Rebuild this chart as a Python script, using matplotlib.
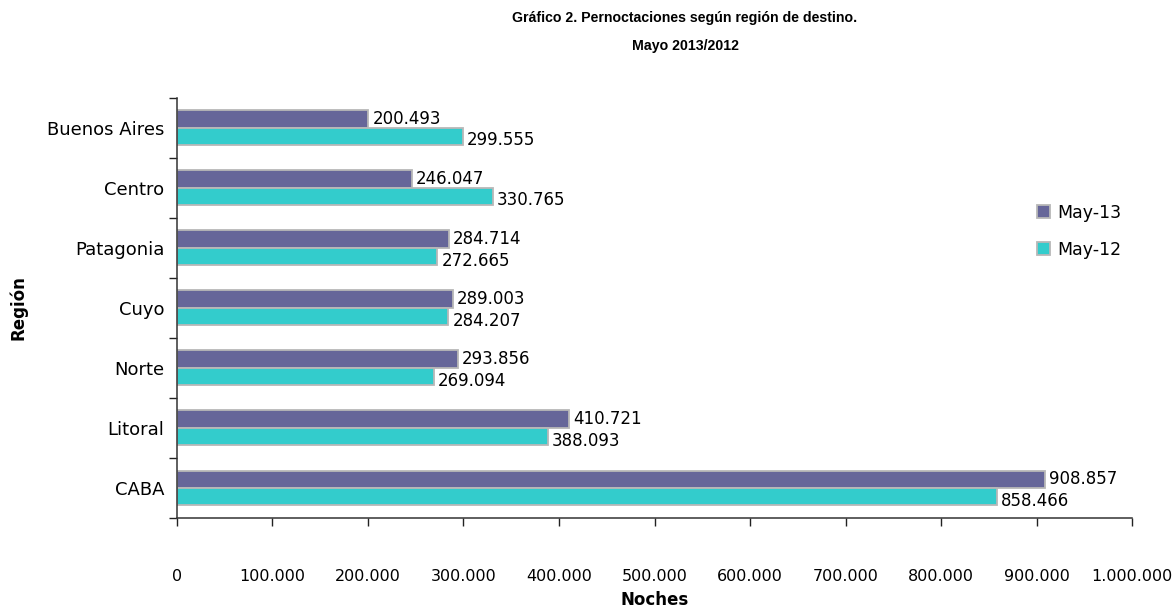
import matplotlib
matplotlib.use("Agg")
import matplotlib.pyplot as plt
import numpy as np
from matplotlib.ticker import FuncFormatter, FixedLocator

regions = ["Buenos Aires", "Centro", "Patagonia", "Cuyo", "Norte", "Litoral", "CABA"]
may13 = [200493, 246047, 284714, 289003, 293856, 410721, 908857]
may12 = [299555, 330765, 272665, 284207, 269094, 388093, 858466]
series_labels = ["May-13", "May-12"]
colors = ["#666699", "#33CCCC"]

def fmt(v):
    return f"{int(v):,}".replace(",", ".")

plt.rcParams['font.family'] = ['DejaVu Sans']

fig = plt.figure(figsize=(11.76, 6.11), dpi=100)
ax = fig.add_axes([0.1505, 0.1522, 0.8121, 0.6882])

y = np.arange(len(regions))
h = 0.29
ax.barh(y - h/2, may13, height=h, color=colors[0], edgecolor="#B8B8B8", linewidth=1.3, label=series_labels[0])
ax.barh(y + h/2, may12, height=h, color=colors[1], edgecolor="#B8B8B8", linewidth=1.3, label=series_labels[1])

for i, v in enumerate(may13):
    ax.annotate(fmt(v), (v, y[i] - h/2), xytext=(3, 0), textcoords="offset points",
                va="center", ha="left", fontsize=12)
for i, v in enumerate(may12):
    ax.annotate(fmt(v), (v, y[i] + h/2), xytext=(3, -3), textcoords="offset points",
                va="center", ha="left", fontsize=12)

ax.set_ylim(len(regions) - 0.5, -0.5)
ax.set_xlim(0, 1000000)
ax.set_xticks(np.arange(0, 1000001, 100000))
ax.xaxis.set_major_formatter(FuncFormatter(lambda v, p: fmt(v)))
ax.set_yticks(y)
ax.set_yticklabels(regions)
ax.yaxis.set_minor_locator(FixedLocator(np.arange(-0.5, len(regions), 1.0)))
ax.tick_params(axis="y", which="major", length=0, pad=9, labelsize=13)
ax.tick_params(axis="y", which="minor", length=6, width=1, color="#222222")
ax.tick_params(axis="x", which="major", length=6, width=1, color="#222222", pad=31, labelsize=11.5)

for s in ["top", "right"]:
    ax.spines[s].set_visible(False)
for s in ["left", "bottom"]:
    ax.spines[s].set_color("#333333")
    ax.spines[s].set_linewidth(1.1)

ax.set_xlabel("Noches", fontsize=12, fontweight="bold", labelpad=5)
ax.set_ylabel("Región", fontsize=12, fontweight="bold", labelpad=14)

fig.text(0.5825, 0.970, "Gráfico 2. Pernoctaciones según región de destino.", ha="center", va="center",
         fontsize=10.2, fontweight="bold", family="Liberation Sans")
fig.text(0.5825, 0.925, "Mayo 2013/2012", ha="center", va="center", fontsize=10.2, fontweight="bold",
         family="Liberation Sans")

ax.legend(loc="upper left", bbox_to_anchor=(0.884, 0.785), frameon=False, fontsize=12.5,
          handlelength=0.75, handleheight=0.75, handletextpad=0.4, labelspacing=1.1)

fig.savefig("out.png", dpi=100)
